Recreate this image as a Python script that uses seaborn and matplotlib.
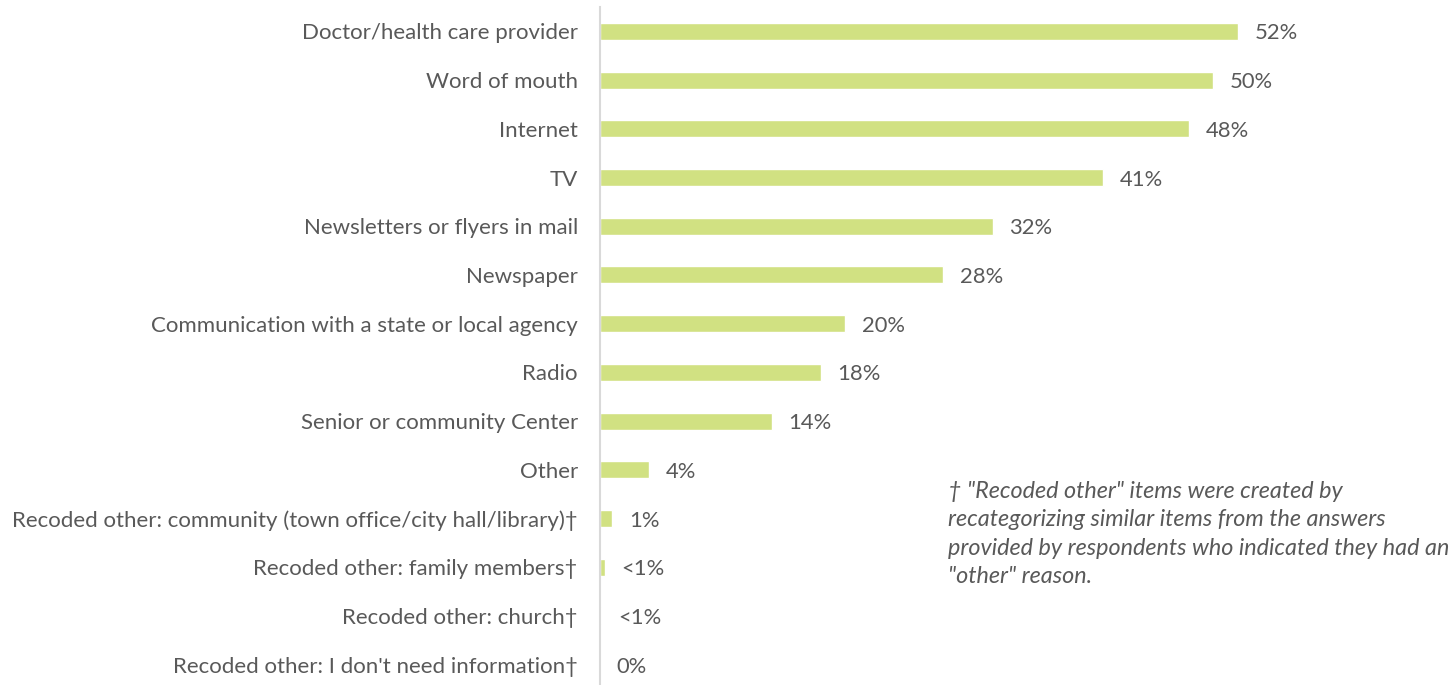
import matplotlib
matplotlib.use("Agg")
import matplotlib.pyplot as plt
import seaborn as sns
import pandas as pd

# Survey: where respondents get information
categories = [
    "Doctor/health care provider",
    "Word of mouth",
    "Internet",
    "TV",
    "Newsletters or flyers in mail",
    "Newspaper",
    "Communication with a state or local agency",
    "Radio",
    "Senior or community Center",
    "Other",
    "Recoded other: community (town office/city hall/library)\u2020",
    "Recoded other: family members\u2020",
    "Recoded other: church\u2020",
    "Recoded other: I don't need information\u2020",
]
values = [52, 50, 48, 41, 32, 28, 20, 18, 14, 4, 1, 0.4, 0.1, 0]
value_labels = ["52%", "50%", "48%", "41%", "32%", "28%", "20%", "18%", "14%",
                "4%", "1%", "<1%", "<1%", "0%"]

footnote = ('\u2020 "Recoded other" items were created by\n'
            'recategorizing similar items from the answers\n'
            'provided by respondents who indicated they had an\n'
            '"other" reason.')

sns.set_theme(style="white")
plt.rcParams["font.family"] = ["Lato", "DejaVu Sans"]

TEXT = "#595959"
BAR = "#d1e182"

df = pd.DataFrame({"source": categories, "pct": values})

fig = plt.figure(figsize=(14.54, 6.85), dpi=100)
ax = fig.add_axes([600 / 1454, -4 / 685, 736 / 1454, 682 / 685])

sns.barplot(data=df, y="source", x="pct", orient="h", color=BAR,
            width=0.35, saturation=1, ax=ax)

ax.set_xlim(0, 60)
ax.set_ylim(13.5, -0.5)
ax.set_xlabel("")
ax.set_ylabel("")
ax.set_xticks([])
ax.tick_params(axis="y", length=0, pad=16, labelsize=16, labelcolor=TEXT)
for s in ["top", "right", "bottom"]:
    ax.spines[s].set_visible(False)
ax.spines["left"].set_color("#d9d9d9")
ax.spines["left"].set_linewidth(1.5)

for i, (v, lab) in enumerate(zip(values, value_labels)):
    ax.annotate(lab, xy=(v, i), xytext=(12, -1.5), textcoords="offset points",
                va="center", ha="left", fontsize=15.8, color=TEXT)

fig.text(948 / 1454, 1 - 481 / 685, footnote, ha="left", va="top",
         fontsize=16.8, style="italic", color=TEXT, linespacing=1.44)

fig.savefig("out.png", dpi=100)
